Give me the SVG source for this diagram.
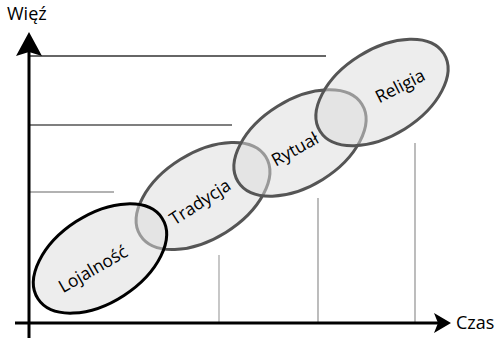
<svg xmlns="http://www.w3.org/2000/svg" width="497" height="338" viewBox="0 0 497 338">
<style>
.axis{stroke:#000;stroke-width:3;fill:none}
.grid{stroke-width:1.3;fill:none}
.ell{fill:#dcdcdc;fill-opacity:0.5;stroke:#555;stroke-width:3}
.lab{font-family:"Open Sans","Noto Sans","DejaVu Sans",sans-serif;font-size:17.5px;fill:#000;text-anchor:middle}
.axl{font-family:"Open Sans","Noto Sans","DejaVu Sans",sans-serif;font-size:18px;fill:#000}
</style>
<rect width="497" height="338" fill="#fff"/>
<g id="grid">
<line class="grid" x1="30" y1="56" x2="326" y2="56" stroke="#333"/>
<line class="grid" x1="30" y1="125" x2="232" y2="125" stroke="#555"/>
<line class="grid" x1="30" y1="192" x2="114" y2="192" stroke="#999"/>
<line class="grid" x1="219" y1="255" x2="219" y2="322" stroke="#aaa"/>
<line class="grid" x1="318" y1="198" x2="318" y2="322" stroke="#999"/>
<line class="grid" x1="415" y1="143" x2="415" y2="322" stroke="#999"/>
</g>
<g id="connectors">
<line class="axis" x1="29" y1="50" x2="29" y2="338"/>
<polygon points="29,32 42,56 29,52 16,56" fill="#000"/>
<line class="axis" x1="15" y1="323" x2="438" y2="323"/>
<polygon points="451,323 434,333 438,323 434,313" fill="#000"/>
</g>
<g id="tradycja">
<ellipse class="ell" cx="203" cy="196" rx="74" ry="43" transform="rotate(-32 203 196)"/>
<text class="lab" transform="translate(200 202) rotate(-33)" dy="0.35em">Tradycja</text>
</g>
<g id="lojalnosc">
<ellipse class="ell" cx="100" cy="258.5" rx="74" ry="44" transform="rotate(-33 100 258.5)" style="stroke:#000"/>
<text class="lab" transform="translate(93 269) rotate(-30)" dy="0.35em">Lojalność</text>
</g>
<g id="rytual">
<ellipse class="ell" cx="300" cy="143" rx="73" ry="43" transform="rotate(-32 300 143)"/>
<text class="lab" transform="translate(295 149) rotate(-29)" dy="0.35em">Rytuał</text>
</g>
<g id="religia">
<ellipse class="ell" cx="382" cy="92.5" rx="73" ry="43" transform="rotate(-32 382 92.5)"/>
<text class="lab" transform="translate(400 86) rotate(-27)" dy="0.35em">Religia</text>
</g>
<text class="axl" x="7" y="20">Więź</text>
<text class="axl" x="456" y="329">Czas</text>
</svg>
